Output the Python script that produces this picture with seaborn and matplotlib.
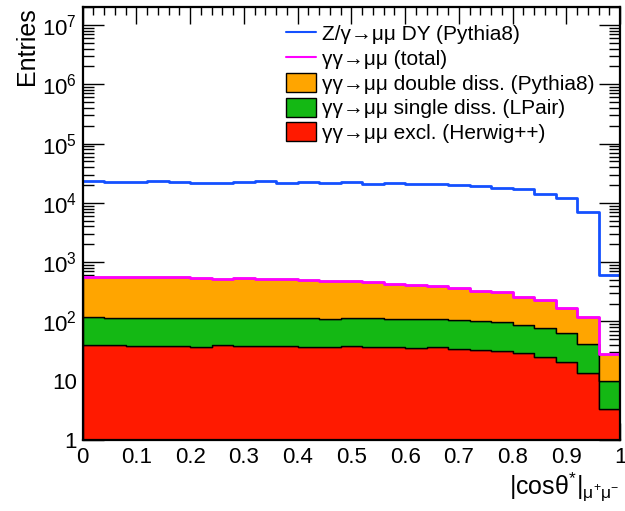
import numpy as np
import pandas as pd
import matplotlib
matplotlib.use("Agg")
import matplotlib.pyplot as plt
from matplotlib.lines import Line2D
from matplotlib.patches import Patch
from matplotlib.ticker import FixedLocator, FixedFormatter, MultipleLocator, LogLocator, NullFormatter
import seaborn as sns

# |cos theta*| binning: 25 bins of width 0.04
n_bins = 25
x_range = (0.0, 1.0)
bin_edges = np.linspace(x_range[0], x_range[1], n_bins + 1)
bin_centers = 0.5 * (bin_edges[:-1] + bin_edges[1:])

# Drell-Yan Z/gamma -> mumu (Pythia8)
dy_pythia8 = [23600, 22700, 22100, 23300, 22100, 21800, 21800, 22100, 23000, 21300,
              22100, 21300, 22100, 20700, 21600, 20700, 20500, 19950, 19000, 17800,
              16900, 14300, 11900, 7000, 614]

# gamma gamma -> mumu components
excl_herwig = [40.5, 39.5, 38.9, 38.5, 38.0, 37.5, 39.5, 38.9, 38.5, 38.5,
               37.5, 37.0, 38.0, 37.5, 36.6, 35.6, 36.6, 33.8, 33.0, 31.3,
               29.7, 24.8, 20.7, 13.5, 3.3]
single_lpair = [76.5, 76.5, 77.1, 74.5, 77.0, 75.5, 76.5, 74.1, 74.5, 76.5,
                75.5, 74.0, 78.0, 78.5, 74.4, 75.4, 73.4, 70.2, 69.0, 64.7,
                58.3, 52.2, 43.3, 27.5, 6.7]
double_pythia8 = [437, 451, 451, 454, 439, 420, 410, 433, 413, 411,
                  386, 376, 361, 346, 316, 300, 285, 262, 227, 217,
                  170, 153, 104, 76, 17.9]

lab_dy = "Z/γ→μμ DY (Pythia8)"
lab_tot = "γγ→μμ (total)"
lab_dd = "γγ→μμ double diss. (Pythia8)"
lab_sd = "γγ→μμ single diss. (LPair)"
lab_ex = "γγ→μμ excl. (Herwig++)"

col_dy = "#1450ff"
col_tot = "#ff00ff"
col_dd = "#ffa500"
col_sd = "#14b814"
col_ex = "#ff1a00"

sns.set_theme(style="ticks")
plt.rcParams["font.family"] = ["Liberation Sans", "DejaVu Sans"]
plt.rcParams["mathtext.fontset"] = "custom"
plt.rcParams["mathtext.rm"] = "Liberation Sans"
plt.rcParams["mathtext.it"] = "Liberation Sans:italic"
plt.rcParams["mathtext.sf"] = "Liberation Sans"
plt.rcParams["text.color"] = "black"
plt.rcParams["axes.labelcolor"] = "black"
plt.rcParams["xtick.color"] = "black"
plt.rcParams["ytick.color"] = "black"

stack = pd.DataFrame({
    "x": np.tile(bin_centers, 3),
    "w": np.concatenate([double_pythia8, single_lpair, excl_herwig]),
    "proc": [lab_dd] * n_bins + [lab_sd] * n_bins + [lab_ex] * n_bins,
})
total = np.array(double_pythia8) + np.array(single_lpair) + np.array(excl_herwig)
lines = pd.DataFrame({"x": bin_centers, "total": total, "dy": dy_pythia8})

fig = plt.figure(figsize=(6.25, 5.11), dpi=100)
ax = fig.add_axes([0.1323, 0.139, 0.8597, 0.847])

sns.histplot(data=stack, x="x", weights="w", hue="proc",
             hue_order=[lab_dd, lab_sd, lab_ex], bins=n_bins, binrange=x_range,
             multiple="stack", element="step", fill=True, alpha=1.0,
             palette={lab_dd: col_dd, lab_sd: col_sd, lab_ex: col_ex},
             edgecolor="black", linewidth=1.0, legend=False, ax=ax)
sns.histplot(data=lines, x="x", weights="total", bins=n_bins, binrange=x_range,
             element="step", fill=False, color=col_tot, linewidth=2.0, ax=ax)
sns.histplot(data=lines, x="x", weights="dy", bins=n_bins, binrange=x_range,
             element="step", fill=False, color=col_dy, linewidth=2.0, ax=ax)

ax.set_yscale("log")
ax.set_xlim(0, 1)
ax.set_ylim(1, 2.0e7)

# ROOT-like frame and ticks
for s in ax.spines.values():
    s.set_linewidth(1.6)
    s.set_color("black")
xt = np.round(np.arange(0, 1.01, 0.1), 1)
ax.xaxis.set_major_locator(FixedLocator(xt))
ax.xaxis.set_major_formatter(FixedFormatter(["0"] + [f"{v:.1f}" for v in xt[1:-1]] + ["1"]))
ax.xaxis.set_minor_locator(MultipleLocator(0.02))
yt = [1, 10, 1e2, 1e3, 1e4, 1e5, 1e6, 1e7]
ax.yaxis.set_major_locator(FixedLocator(yt))
ax.yaxis.set_major_formatter(FixedFormatter(["1", "10"] + [rf"10$^{{{k}}}$" for k in range(2, 8)]))
ax.yaxis.set_minor_locator(LogLocator(base=10, subs=np.arange(2, 10), numticks=20))
ax.yaxis.set_minor_formatter(NullFormatter())
ax.tick_params(which="both", direction="in", top=True, right=True, color="black",
               labelcolor="black", width=1.0)
ax.tick_params(axis="x", which="major", length=12, labelsize=16, pad=5)
ax.tick_params(axis="x", which="minor", length=6)
ax.tick_params(axis="y", which="major", length=15, labelsize=16, pad=4)
ax.tick_params(axis="y", which="minor", length=8)

ax.set_ylabel("Entries", fontsize=18, loc="top", labelpad=2)
ax.set_xlabel(r"$\mathrm{|cos\theta^{*}|_{\mu^{+}\mu^{-}}}$", fontsize=18, loc="right", labelpad=2)

handles = [
    Line2D([], [], color=col_dy, linewidth=1.5),
    Line2D([], [], color=col_tot, linewidth=1.5),
    Patch(facecolor=col_dd, edgecolor="black", linewidth=1.0),
    Patch(facecolor=col_sd, edgecolor="black", linewidth=1.0),
    Patch(facecolor=col_ex, edgecolor="black", linewidth=1.0),
]
ax.legend(handles, [lab_dy, lab_tot, lab_dd, lab_sd, lab_ex], loc="upper left",
          bbox_to_anchor=(0.355, 0.99), frameon=False, fontsize=15,
          handlelength=1.45, handleheight=1.0, handletextpad=0.3,
          labelspacing=0.2, borderaxespad=0.2)

fig.savefig("out.png", dpi=100, facecolor="white")
